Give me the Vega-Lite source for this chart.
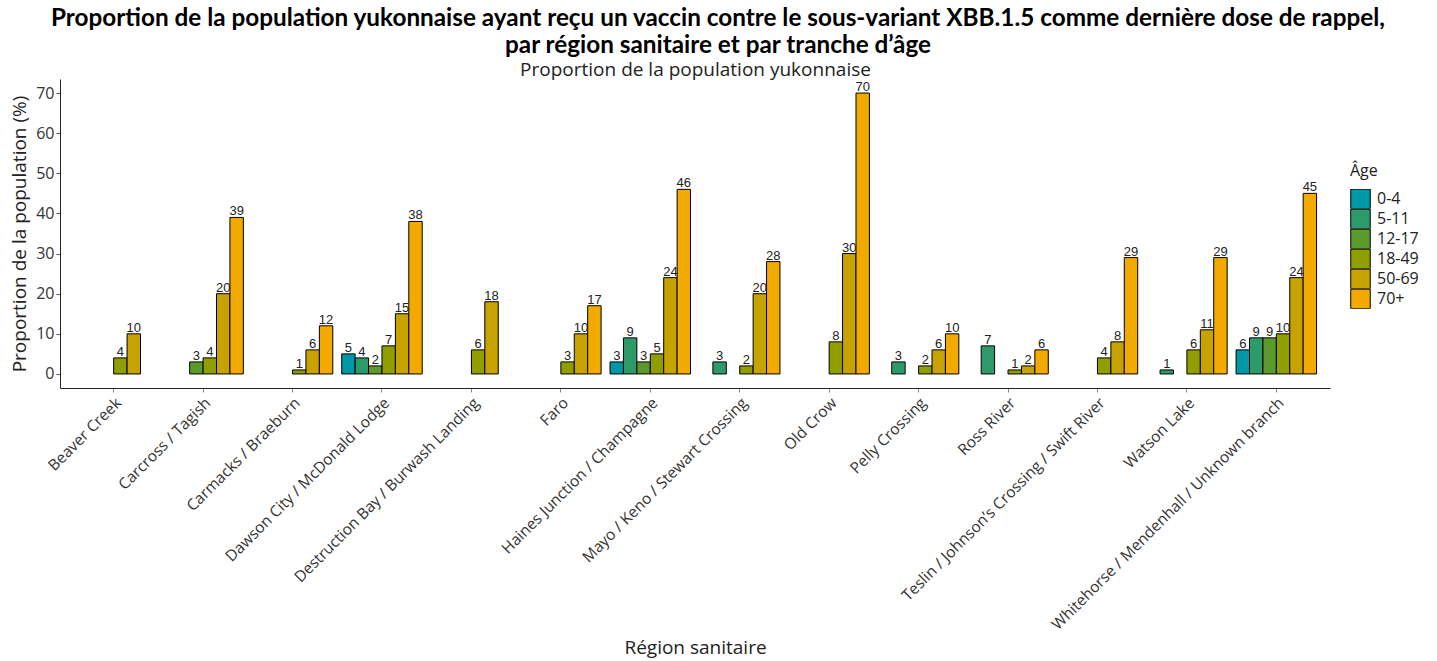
{
  "$schema": "https://vega.github.io/schema/vega-lite/v6.json",
  "width": 1270,
  "height": 309,
  "autosize": {"type": "none"},
  "padding": {"left": 60, "top": 79, "right": 107, "bottom": 273},
  "background": "white",
  "title": {
    "text": ["Proportion de la population yukonnaise ayant reçu un vaccin contre le sous-variant XBB.1.5 comme dernière dose de rappel,", "par région sanitaire et par tranche d’âge"],
    "font": "Lato",
    "fontSize": 24.3,
    "fontWeight": "bold",
    "color": "black",
    "anchor": "middle",
    "frame": "group",
    "dx": 23,
    "lineHeight": 27,
    "offset": 2
  },
  "config": {
    "view": {"stroke": null},
    "axis": {"grid": false}
  },
  "data": {
    "values": [
      {"region": "Beaver Creek", "age": "18-49", "value": 4},
      {"region": "Beaver Creek", "age": "50-69", "value": 10},
      {"region": "Carcross / Tagish", "age": "12-17", "value": 3},
      {"region": "Carcross / Tagish", "age": "18-49", "value": 4},
      {"region": "Carcross / Tagish", "age": "50-69", "value": 20},
      {"region": "Carcross / Tagish", "age": "70+", "value": 39},
      {"region": "Carmacks / Braeburn", "age": "18-49", "value": 1},
      {"region": "Carmacks / Braeburn", "age": "50-69", "value": 6},
      {"region": "Carmacks / Braeburn", "age": "70+", "value": 12},
      {"region": "Dawson City / McDonald Lodge", "age": "0-4", "value": 5},
      {"region": "Dawson City / McDonald Lodge", "age": "5-11", "value": 4},
      {"region": "Dawson City / McDonald Lodge", "age": "12-17", "value": 2},
      {"region": "Dawson City / McDonald Lodge", "age": "18-49", "value": 7},
      {"region": "Dawson City / McDonald Lodge", "age": "50-69", "value": 15},
      {"region": "Dawson City / McDonald Lodge", "age": "70+", "value": 38},
      {"region": "Destruction Bay / Burwash Landing", "age": "18-49", "value": 6},
      {"region": "Destruction Bay / Burwash Landing", "age": "50-69", "value": 18},
      {"region": "Faro", "age": "18-49", "value": 3},
      {"region": "Faro", "age": "50-69", "value": 10},
      {"region": "Faro", "age": "70+", "value": 17},
      {"region": "Haines Junction / Champagne", "age": "0-4", "value": 3},
      {"region": "Haines Junction / Champagne", "age": "5-11", "value": 9},
      {"region": "Haines Junction / Champagne", "age": "12-17", "value": 3},
      {"region": "Haines Junction / Champagne", "age": "18-49", "value": 5},
      {"region": "Haines Junction / Champagne", "age": "50-69", "value": 24},
      {"region": "Haines Junction / Champagne", "age": "70+", "value": 46},
      {"region": "Mayo / Keno / Stewart Crossing", "age": "5-11", "value": 3},
      {"region": "Mayo / Keno / Stewart Crossing", "age": "18-49", "value": 2},
      {"region": "Mayo / Keno / Stewart Crossing", "age": "50-69", "value": 20},
      {"region": "Mayo / Keno / Stewart Crossing", "age": "70+", "value": 28},
      {"region": "Old Crow", "age": "18-49", "value": 8},
      {"region": "Old Crow", "age": "50-69", "value": 30},
      {"region": "Old Crow", "age": "70+", "value": 70},
      {"region": "Pelly Crossing", "age": "5-11", "value": 3},
      {"region": "Pelly Crossing", "age": "18-49", "value": 2},
      {"region": "Pelly Crossing", "age": "50-69", "value": 6},
      {"region": "Pelly Crossing", "age": "70+", "value": 10},
      {"region": "Ross River", "age": "5-11", "value": 7},
      {"region": "Ross River", "age": "18-49", "value": 1},
      {"region": "Ross River", "age": "50-69", "value": 2},
      {"region": "Ross River", "age": "70+", "value": 6},
      {"region": "Teslin / Johnson’s Crossing / Swift River", "age": "18-49", "value": 4},
      {"region": "Teslin / Johnson’s Crossing / Swift River", "age": "50-69", "value": 8},
      {"region": "Teslin / Johnson’s Crossing / Swift River", "age": "70+", "value": 29},
      {"region": "Watson Lake", "age": "5-11", "value": 1},
      {"region": "Watson Lake", "age": "18-49", "value": 6},
      {"region": "Watson Lake", "age": "50-69", "value": 11},
      {"region": "Watson Lake", "age": "70+", "value": 29},
      {"region": "Whitehorse / Mendenhall / Unknown branch", "age": "0-4", "value": 6},
      {"region": "Whitehorse / Mendenhall / Unknown branch", "age": "5-11", "value": 9},
      {"region": "Whitehorse / Mendenhall / Unknown branch", "age": "12-17", "value": 9},
      {"region": "Whitehorse / Mendenhall / Unknown branch", "age": "18-49", "value": 10},
      {"region": "Whitehorse / Mendenhall / Unknown branch", "age": "50-69", "value": 24},
      {"region": "Whitehorse / Mendenhall / Unknown branch", "age": "70+", "value": 45}
    ]
  },
  "layer": [
    {
      "mark": {"type": "bar", "stroke": "black", "strokeWidth": 1},
      "encoding": {
        "x": {
          "field": "region",
          "type": "nominal",
          "sort": null,
          "scale": {"paddingInner": 0.1, "paddingOuter": 0.15},
          "axis": {
            "orient": "bottom",
            "labelAngle": -45,
            "labelAlign": "right",
            "labelBaseline": "top",
            "labelFont": "Open Sans",
            "labelFontSize": 15.5,
            "labelColor": "#333333",
            "labelPadding": 3,
            "labelLimit": 0,
            "tickSize": 4,
            "tickColor": "#888888",
            "domainColor": "#222222",
            "domainWidth": 1,
            "title": "Région sanitaire",
            "titleFont": "Open Sans",
            "titleFontSize": 19,
            "titleFontWeight": "normal",
            "titleColor": "#222222",
            "titlePadding": 50
          }
        },
        "xOffset": {
          "field": "age",
          "type": "nominal",
          "scale": {"domain": ["0-4", "5-11", "12-17", "18-49", "50-69", "70+"], "paddingInner": 0, "paddingOuter": 0}
        },
        "y": {
          "field": "value",
          "type": "quantitative",
          "scale": {"domain": [-3.5, 73.5], "nice": false, "zero": false},
          "axis": {
            "values": [0, 10, 20, 30, 40, 50, 60, 70],
            "labelFont": "Open Sans",
            "labelFontSize": 16,
            "labelColor": "#333333",
            "labelPadding": 2,
            "tickSize": 4,
            "tickColor": "#555555",
            "domainColor": "#222222",
            "title": "Proportion de la population (%)",
            "titleFont": "Open Sans",
            "titleFontSize": 19,
            "titleFontWeight": "normal",
            "titleColor": "#222222",
            "titlePadding": 6
          }
        },
        "y2": {"datum": 0},
        "color": {
          "field": "age",
          "type": "nominal",
          "scale": {
            "domain": ["0-4", "5-11", "12-17", "18-49", "50-69", "70+"],
            "range": ["#0097A7", "#2E9A6A", "#5B9A2B", "#909E00", "#C6A300", "#F3AA00"]
          },
          "legend": {
            "title": "Âge",
            "orient": "none",
            "legendX": 1290,
            "legendY": 84,
            "titleFont": "Open Sans",
            "titleFontSize": 16,
            "titleFontWeight": "normal",
            "titleColor": "#222222",
            "titlePadding": 10,
            "labelFont": "Open Sans",
            "labelFontSize": 16,
            "labelColor": "#222222",
            "symbolType": "square",
            "symbolSize": 380,
            "symbolStrokeColor": "black",
            "symbolStrokeWidth": 1,
            "symbolOpacity": 1,
            "rowPadding": 0,
            "clipHeight": 19.7,
            "labelOffset": 6
          }
        }
      }
    },
    {
      "mark": {"type": "text", "baseline": "alphabetic", "font": "Liberation Sans", "fontSize": 13, "color": "#222222", "dy": -2},
      "encoding": {
        "x": {
          "field": "region",
          "type": "nominal",
          "sort": null,
          "axis": {
            "orient": "top",
            "labels": false,
            "ticks": false,
            "domain": false,
            "title": "Proportion de la population yukonnaise",
            "titleFont": "Open Sans",
            "titleFontSize": 19,
            "titleFontWeight": "normal",
            "titleColor": "#222222",
            "titlePadding": 0
          }
        },
        "xOffset": {"field": "age", "type": "nominal"},
        "y": {"field": "value", "type": "quantitative"},
        "text": {"field": "value", "type": "quantitative"}
      }
    }
  ],
  "resolve": {"axis": {"x": "independent"}}
}
